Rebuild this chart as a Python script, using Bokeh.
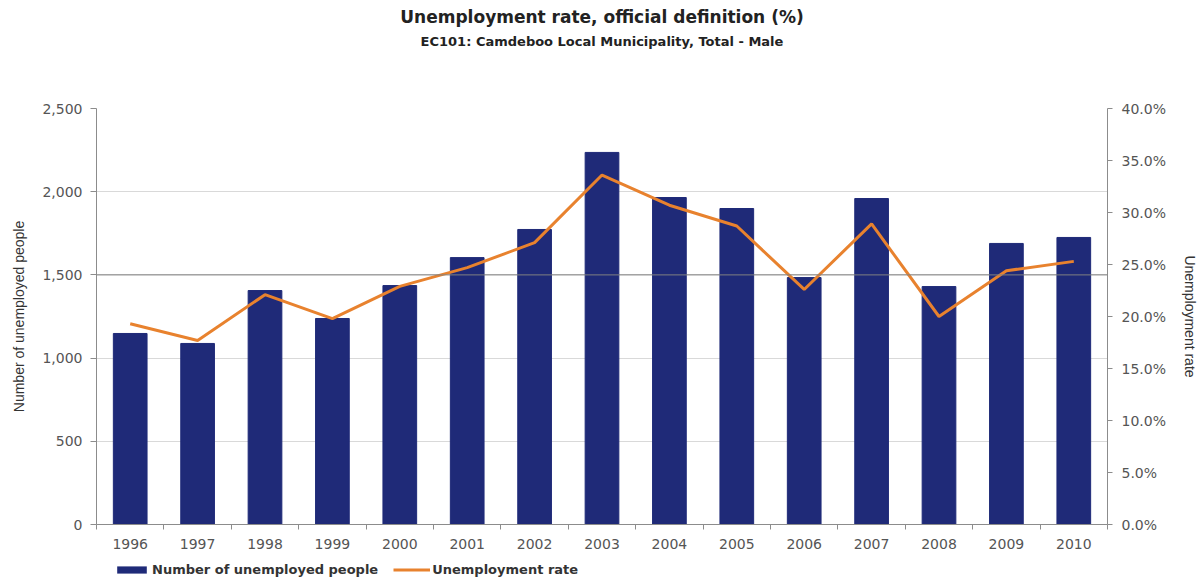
import numpy as np
from bokeh.plotting import figure
from bokeh.layouts import column
from bokeh.models import (ColumnDataSource, Range1d, LinearAxis, FixedTicker,
                          NumeralTickFormatter, Legend, LegendItem, Title, Span)
from bokeh.embed import file_html
from bokeh.resources import INLINE

years = ["1996", "1997", "1998", "1999", "2000", "2001", "2002", "2003",
         "2004", "2005", "2006", "2007", "2008", "2009", "2010"]
unemployed = [1148, 1088, 1406, 1238, 1436, 1604, 1773, 2236,
              1965, 1899, 1484, 1959, 1430, 1689, 1725]
rate = [0.193, 0.177, 0.221, 0.198, 0.229, 0.247, 0.271, 0.336,
        0.307, 0.287, 0.226, 0.289, 0.200, 0.244, 0.253]
left_ticks = [0, 500, 1000, 1500, 2000, 2500]
right_ticks = [0.0, 0.05, 0.10, 0.15, 0.20, 0.25, 0.30, 0.35, 0.40]
series_names = ["Number of unemployed people", "Unemployment rate"]

NAVY = "#1f2a78"
ORANGE = "#e8822e"
GRID = "#d9d9d9"
AXIS = "#8c8c8c"
TXT = "#555555"
FONT = "DejaVu Sans"
NARROW = "Liberation Sans"

xs = [i + 0.5 for i in range(len(years))]
src = ColumnDataSource(dict(x=xs, year=years, count=unemployed, rate=rate))

p = figure(width=1200, height=556, output_backend="svg", toolbar_location=None,
           x_range=Range1d(0, len(years)), y_range=Range1d(0, 2500),
           min_border_left=96, min_border_right=90, min_border_top=108,
           min_border_bottom=32, outline_line_color=None)
p.extra_y_ranges = {"rate": Range1d(0, 0.4)}

bars = p.vbar(x="x", top="count", width=0.5, source=src, color=NAVY)
line = p.line(x="x", y="rate", source=src, y_range_name="rate",
              line_color=ORANGE, line_width=3)

p.add_layout(Span(location=1500, dimension="width", line_color="#808080", line_width=1))

# x axis
xa = p.xaxis[0]
xa.ticker = FixedTicker(ticks=xs, minor_ticks=list(range(len(years) + 1)))
xa.major_label_overrides = {x: y for x, y in zip(xs, years)}
xa.major_tick_line_color = None
xa.minor_tick_line_color = AXIS
xa.minor_tick_in = 0
xa.minor_tick_out = 5
xa.axis_line_color = AXIS
xa.major_label_text_font = FONT
xa.major_label_text_font_size = "14px"
xa.major_label_text_color = TXT
xa.major_label_standoff = 8

# left axis
ya = p.yaxis[0]
ya.ticker = FixedTicker(ticks=left_ticks)
ya.formatter = NumeralTickFormatter(format="0,0")
ya.axis_label = "Number of unemployed people"
ya.axis_label_text_font = NARROW
ya.axis_label_text_font_style = "normal"
ya.axis_label_text_font_size = "14px"
ya.axis_label_text_color = "#333333"
ya.axis_label_standoff = 12
ya.major_label_text_font = FONT
ya.major_label_text_font_size = "14px"
ya.major_label_text_color = TXT
ya.major_label_standoff = 8
ya.major_tick_out = 6
ya.major_tick_in = 0
ya.minor_tick_line_color = None
ya.axis_line_color = AXIS
ya.major_tick_line_color = AXIS

# right axis
ra = LinearAxis(y_range_name="rate", ticker=FixedTicker(ticks=right_ticks),
                formatter=NumeralTickFormatter(format="0.0%"))
ra.axis_label = "Unemployment rate"
ra.axis_label_text_font = NARROW
ra.axis_label_text_font_style = "normal"
ra.axis_label_text_font_size = "14px"
ra.axis_label_text_color = "#333333"
ra.axis_label_standoff = 13
ra.major_label_text_font = FONT
ra.major_label_text_font_size = "14px"
ra.major_label_text_color = TXT
ra.major_label_standoff = 9
ra.major_tick_out = 5
ra.major_tick_in = 0
ra.minor_tick_line_color = None
ra.axis_line_color = AXIS
ra.major_tick_line_color = AXIS
p.add_layout(ra, "right")

p.xgrid.grid_line_color = None
p.ygrid.grid_line_color = GRID
p.ygrid.ticker = FixedTicker(ticks=left_ticks)

# titles: p.title is outermost; the first added is nearest the frame
p.title.text = "Unemployment rate, official definition (%)"
p.title.align = "center"
p.title.text_font = FONT
p.title.text_font_size = "17px"
p.title.text_font_style = "bold"
p.title.text_color = "#222222"
p.title.standoff = 0
p.add_layout(Title(text=" ", align="center", text_font=FONT, text_font_size="45px",
                   standoff=0), "above")
p.add_layout(Title(text="EC101: Camdeboo Local Municipality, Total - Male", align="center",
                   text_font=FONT, text_font_size="13px", text_font_style="bold",
                   text_color="#222222", standoff=10), "above")

# legend strip below the chart (its frame is aligned with the chart's frame);
# its renderers lie outside its ranges, so only the legend shows
lf = figure(width=1200, height=22, output_backend="svg", toolbar_location=None,
            x_range=Range1d(0, len(years)), y_range=Range1d(5000, 5001),
            x_axis_type=None, y_axis_type=None, outline_line_color=None,
            min_border_left=0, min_border_right=0, min_border_top=0, min_border_bottom=0)
lf.grid.visible = False
lb = lf.vbar(x="x", top="count", width=0, source=src, fill_color=NAVY, line_color=None)
ll = lf.line(x="x", y="rate", source=src, line_color=ORANGE, line_width=3)
legend = Legend(items=[LegendItem(label=series_names[0], renderers=[lb]),
                       LegendItem(label=series_names[1], renderers=[ll])],
                orientation="horizontal", location=(17, 1),
                label_text_font=FONT, label_text_font_size="13px",
                label_text_font_style="bold", label_text_color="#333333",
                label_standoff=2, glyph_width=37, glyph_height=9, spacing=15,
                label_height=14, padding=0, margin=0,
                border_line_color=None, background_fill_alpha=0)
lf.add_layout(legend)

open("out.html", "w").write(file_html(column(p, lf, spacing=0), INLINE))
